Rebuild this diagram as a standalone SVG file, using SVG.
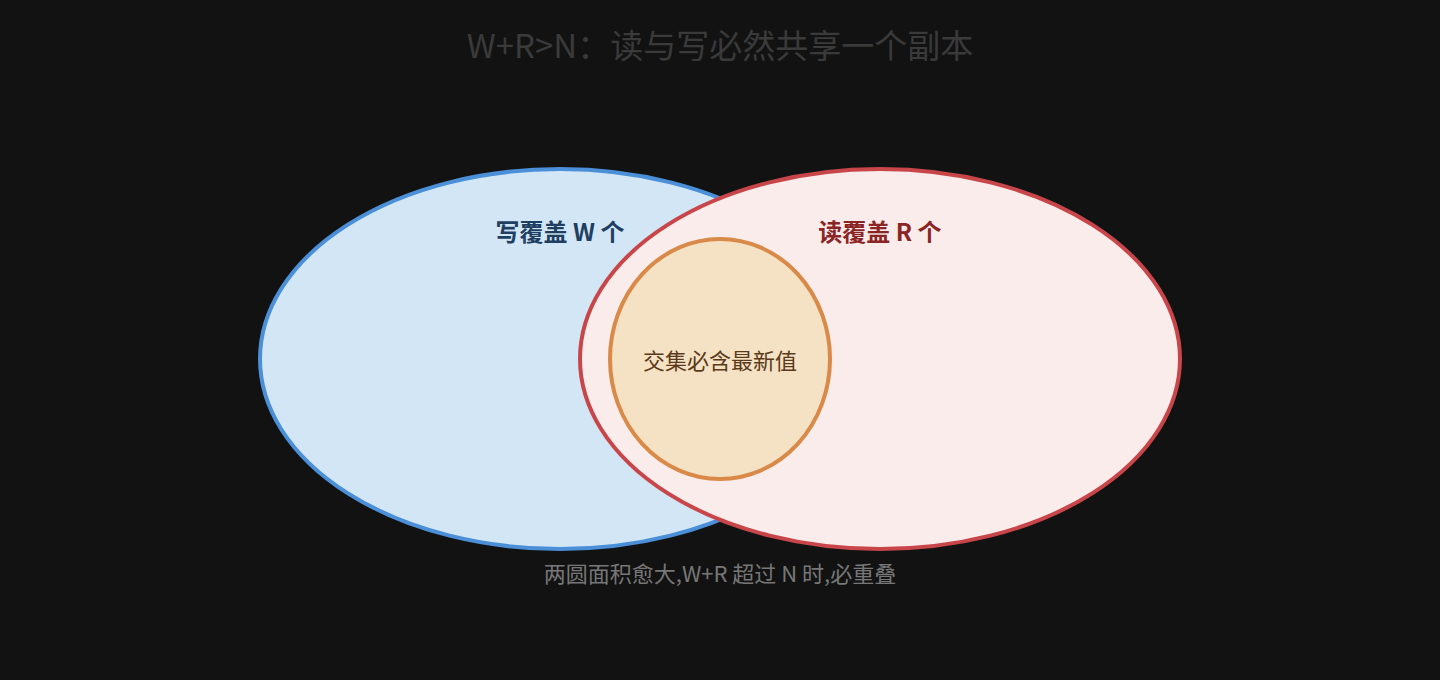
<svg xmlns="http://www.w3.org/2000/svg" width="1440" height="680" viewBox="0 0 1440 680">
<style>
text{font-family:"Noto Sans CJK SC","Noto Sans",sans-serif;text-anchor:middle;dominant-baseline:central}
.lbl{font-size:24px;font-weight:bold}
</style>
<rect width="1440" height="680" fill="#121212"/>
<text x="720" y="44" font-size="33" fill="#3a3a3a">W+R&gt;N：读与写必然共享一个副本</text>
<g id="write">
<ellipse cx="560" cy="359" rx="300" ry="190" fill="#d3e6f6" stroke="#4a8fd8" stroke-width="4"/>
<text class="lbl" x="560" y="230" fill="#1e3f62">写覆盖 W 个</text>
</g>
<g id="read">
<ellipse cx="880" cy="359" rx="300" ry="190" fill="#f9eceb" stroke="#c8464a" stroke-width="4"/>
<text class="lbl" x="880" y="230" fill="#8b2424">读覆盖 R 个</text>
</g>
<g id="intersect">
<ellipse cx="720" cy="359" rx="110" ry="120" fill="#f5e2c4" stroke="#d98a48" stroke-width="4"/>
<text x="720" y="359" font-size="22" fill="#5a3a1a">交集必含最新值</text>
</g>
<g id="connectors"/>
<text x="720" y="572" font-size="22" fill="#777">两圆面积愈大,W+R 超过 N 时,必重叠</text>
</svg>
